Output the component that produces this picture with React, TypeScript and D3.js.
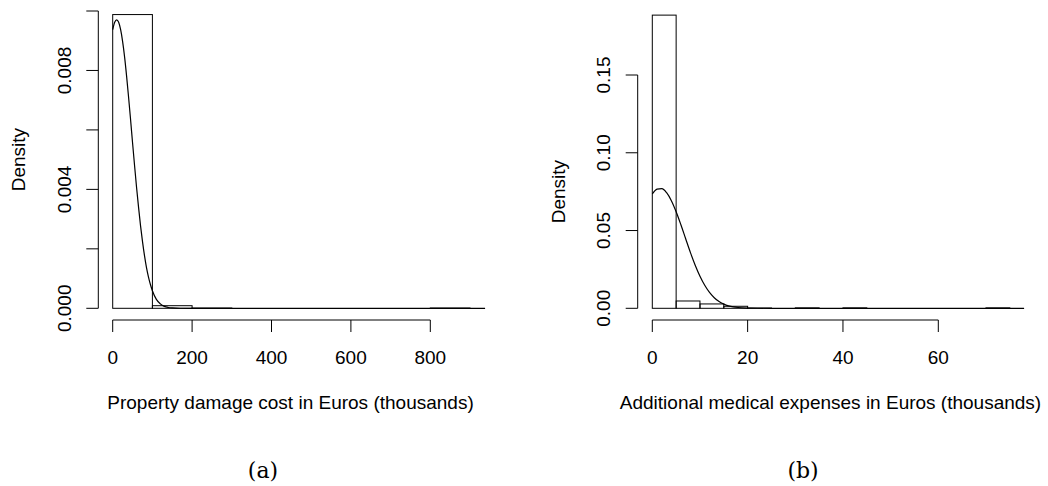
import React from "react";
import * as d3 from "d3";

// ---------- Panel (a): property damage ----------
const propBinEdges = [0, 100, 200, 300, 400, 500, 600, 700, 800, 900];
const propDensities = [0.00988, 0.0000875, 0.00001, 0, 0, 0, 0, 0, 0.00001];
const propCurveX = [0, 5, 10, 15, 20, 25, 30, 35, 40, 45, 50, 55, 60, 65, 70, 75, 80, 85, 90, 95, 100, 110, 120, 130, 140, 150, 170, 200, 938];
const propCurveY = [0.00937, 0.00962, 0.0097, 0.00962, 0.00937, 0.00897, 0.00845, 0.00781, 0.0071, 0.00635, 0.00557, 0.00481, 0.00408, 0.00341, 0.00279, 0.00225, 0.00178, 0.00138, 0.00106, 0.0008, 0.00059, 0.0003, 0.00015, 0.000066, 0.000028, 0.000011, 0.000001, 0, 0];
const propXTicks = [0, 200, 400, 600, 800];
const propYTicks = [0, 0.002, 0.004, 0.006, 0.008, 0.01];
const propYLabels = ["0.000", "", "0.004", "", "0.008", ""];

// ---------- Panel (b): medical expenses ----------
const medBinEdges = [0, 5, 10, 15, 20, 25, 30, 35, 40, 45, 50, 55, 60, 65, 70, 75];
const medDensities = [0.1885, 0.0047, 0.0028, 0.0013, 0.0002, 0, 0.0003, 0, 0.0003, 0, 0, 0, 0, 0, 0.0003];
const medCurveX = [0, 1, 2, 3, 4, 5, 6, 7, 8, 9, 10, 11, 12, 13, 14, 15, 16, 17, 18, 20, 22, 25, 78];
const medCurveY = [0.0735, 0.0766, 0.0769, 0.0743, 0.0692, 0.0621, 0.0537, 0.0447, 0.0358, 0.0277, 0.0206, 0.0148, 0.0102, 0.0068, 0.0043, 0.0027, 0.0016, 0.0009, 0.0005, 0.00014, 0.00003, 0, 0];
const medXTicks = [0, 20, 40, 60];
const medYTicks = [0, 0.05, 0.1, 0.15];
const medYLabels = ["0.00", "0.05", "0.10", "0.15"];

const FONT = "'Liberation Sans', Arial, Helvetica, sans-serif";
const FS = 19;

type PanelProps = {
  edges: number[];
  dens: number[];
  cx: number[];
  cy: number[];
  xTicks: number[];
  yTicks: number[];
  yLabels: string[];
  xDomain: [number, number];
  xRange: [number, number];
  yDomain: [number, number];
  yRange: [number, number];
  axisX: number;
  axisY: number;
  yLabelX: number;
  densityX: number;
  xTitle: string;
  xTitleX: number;
  caption: string;
  captionX: number;
};

function Panel(p: PanelProps) {
  const x = d3.scaleLinear().domain(p.xDomain).range(p.xRange);
  const y = d3.scaleLinear().domain(p.yDomain).range(p.yRange);
  const pts: [number, number][] = p.cx.map((v, i) => [v, p.cy[i]]);
  const line = d3
    .line<[number, number]>()
    .x((d) => x(d[0]))
    .y((d) => y(d[1]))
    .curve(d3.curveMonotoneX);
  const tickLen = 12;
  const yMid = (y(p.yTicks[0]) + y(p.yTicks[p.yTicks.length - 1])) / 2;
  return (
    <g>
      {p.dens.map((d, i) => {
        const x0 = x(p.edges[i]);
        const x1 = x(p.edges[i + 1]);
        const yt = y(d);
        const y0 = y(0);
        return (
          <rect
            key={i}
            x={x0}
            y={yt}
            width={x1 - x0}
            height={Math.max(0, y0 - yt)}
            fill="none"
            stroke="#000"
            strokeWidth={1}
          />
        );
      })}
      <path d={line(pts) || ""} fill="none" stroke="#000" strokeWidth={1.2} />
      <line
        x1={p.axisX}
        x2={p.axisX}
        y1={y(p.yTicks[0])}
        y2={y(p.yTicks[p.yTicks.length - 1])}
        stroke="#000"
      />
      {p.yTicks.map((t, i) => (
        <g key={i}>
          <line x1={p.axisX - tickLen} x2={p.axisX} y1={y(t)} y2={y(t)} stroke="#000" />
          {p.yLabels[i] && (
            <text
              transform={`translate(${p.yLabelX},${y(t)}) rotate(-90)`}
              textAnchor="middle"
              dy="0.36em"
              fontFamily={FONT}
              fontSize={FS}
            >
              {p.yLabels[i]}
            </text>
          )}
        </g>
      ))}
      <line
        x1={x(p.xTicks[0])}
        x2={x(p.xTicks[p.xTicks.length - 1])}
        y1={p.axisY}
        y2={p.axisY}
        stroke="#000"
      />
      {p.xTicks.map((t, i) => (
        <g key={i}>
          <line x1={x(t)} x2={x(t)} y1={p.axisY} y2={p.axisY + tickLen} stroke="#000" />
          <text x={x(t)} y={p.axisY + 44} textAnchor="middle" fontFamily={FONT} fontSize={FS}>
            {t}
          </text>
        </g>
      ))}
      <text
        transform={`translate(${p.densityX},${yMid}) rotate(-90)`}
        textAnchor="middle"
        dy="0.36em"
        fontFamily={FONT}
        fontSize={FS}
      >
        Density
      </text>
      <text x={p.xTitleX} y={408.5} textAnchor="middle" fontFamily={FONT} fontSize={FS}>
        {p.xTitle}
      </text>
      <text
        x={p.captionX}
        y={478}
        textAnchor="middle"
        fontFamily="'DejaVu Serif', 'Liberation Serif', serif"
        fontSize={22}
      >
        {p.caption}
      </text>
    </g>
  );
}

export default function App() {
  return (
    <svg
      width={1048}
      height={486}
      style={{ position: "absolute", left: 0, top: 0, background: "#fff" }}
    >
      <rect x={0} y={0} width={1048} height={486} fill="#fff" />
      <Panel
        edges={propBinEdges}
        dens={propDensities}
        cx={propCurveX}
        cy={propCurveY}
        xTicks={propXTicks}
        yTicks={propYTicks}
        yLabels={propYLabels}
        xDomain={[0, 800]}
        xRange={[112.7, 430.3]}
        yDomain={[0, 0.01]}
        yRange={[308.3, 11]}
        axisX={98.3}
        axisY={320}
        yLabelX={64}
        densityX={18.5}
        xTitle="Property damage cost in Euros (thousands)"
        xTitleX={290.5}
        caption="(a)"
        captionX={263}
      />
      <Panel
        edges={medBinEdges}
        dens={medDensities}
        cx={medCurveX}
        cy={medCurveY}
        xTicks={medXTicks}
        yTicks={medYTicks}
        yLabels={medYLabels}
        xDomain={[0, 60]}
        xRange={[652.3, 938.3]}
        yDomain={[0, 0.15]}
        yRange={[308.3, 75]}
        axisX={637.7}
        axisY={320}
        yLabelX={603}
        densityX={558}
        xTitle="Additional medical expenses in Euros (thousands)"
        xTitleX={830.5}
        caption="(b)"
        captionX={803}
      />
    </svg>
  );
}
